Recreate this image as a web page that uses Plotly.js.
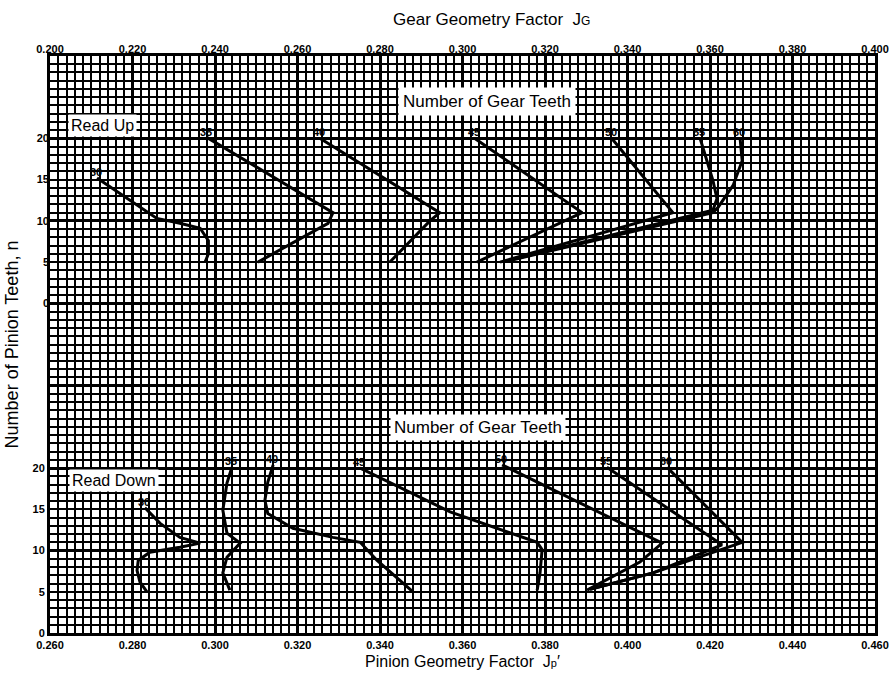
<!DOCTYPE html>
<html>
<head>
<meta charset="utf-8">
<script src="https://cdn.plot.ly/plotly-3.0.1.min.js"></script>
<style>html,body{margin:0;padding:0;background:#fff;}#chart{width:889px;height:675px;}</style>
</head>
<body>
<div id="chart"></div>
<script>
// Curve labels = number of gear teeth
const gearTeeth = ['30', '35', '40', '45', '50', '55', '60'];

// "Read Up" curves: gear geometry factor JG (top axis) vs number of pinion teeth n
const up30JG = [0.2114, 0.2259, 0.2315, 0.2364, 0.2384, 0.2384, 0.2376];
const up30N  = [15.2, 10.3, 9.7, 9.1, 7.6, 6.0, 5.0];
const up35JG = [0.2381, 0.2686, 0.2674, 0.2504];
const up35N  = [20.1, 11.0, 9.7, 5.0];
const up40JG = [0.2655, 0.2945, 0.2921, 0.2824];
const up40N  = [20.0, 11.0, 10.0, 5.0];
const up45JG = [0.3030, 0.3290, 0.3035];
const up45N  = [20.0, 11.0, 5.0];
const up50JG = [0.3362, 0.3510, 0.3091];
const up50N  = [20.0, 11.0, 5.0];
const up55JG = [0.3576, 0.3607, 0.3617, 0.3607, 0.3103];
const up55N  = [20.0, 14.9, 12.7, 11.3, 5.1];
const up60JG = [0.3673, 0.3678, 0.3656, 0.3619, 0.3607, 0.3115];
const up60N  = [20.0, 17.3, 14.3, 11.6, 11.0, 5.2];

// "Read Down" curves: pinion geometry factor JP' (bottom axis) vs n
const dn30JP = [0.2830, 0.2867, 0.2915, 0.2964, 0.2915, 0.2842, 0.2814, 0.2811, 0.2818, 0.2835];
const dn30N  = [15.2, 13.3, 11.6, 10.9, 10.4, 9.8, 8.8, 7.6, 6.2, 5.0];
const dn35JP = [0.3041, 0.3029, 0.3019, 0.3029, 0.3061, 0.3029, 0.3019, 0.3036];
const dn35N  = [20.1, 18.2, 14.9, 12.1, 10.9, 9.2, 7.3, 5.2];
const dn40JP = [0.3141, 0.3128, 0.3121, 0.3128, 0.3189, 0.3286, 0.3352, 0.3393, 0.3480];
const dn40N  = [20.4, 18.3, 16.1, 14.5, 12.7, 11.6, 11.0, 8.8, 5.0];
const dn45JP = [0.3352, 0.3570, 0.3781, 0.3793, 0.3788, 0.3781];
const dn45N  = [20.0, 14.7, 11.0, 10.1, 7.3, 5.2];
const dn50JP = [0.3696, 0.4084, 0.4030, 0.3902];
const dn50N  = [20.4, 10.9, 8.6, 5.2];
const dn55JP = [0.3950, 0.4229, 0.4062, 0.3909];
const dn55N  = [20.1, 10.7, 7.3, 5.3];
const dn60JP = [0.4096, 0.4278, 0.4062, 0.3909];
const dn60N  = [20.1, 11.0, 7.3, 5.3];

// Tick values
const nTicks = [0, 5, 10, 15, 20];

const upCurves = [[up30JG, up30N], [up35JG, up35N], [up40JG, up40N], [up45JG, up45N],
                  [up50JG, up50N], [up55JG, up55N], [up60JG, up60N]];
const dnCurves = [[dn30JP, dn30N], [dn35JP, dn35N], [dn40JP, dn40N], [dn45JP, dn45N],
                  [dn50JP, dn50N], [dn55JP, dn55N], [dn60JP, dn60N]];

const FONT = 'Liberation Sans, Arial, Helvetica, sans-serif';
const lineStyle = {color: '#000', width: 3};
const labelFont = {family: FONT, size: 11, weight: 'bold', color: '#000'};

const traces = [];
const annotations = [];
upCurves.forEach(function (c, i) {
  traces.push({x: c[0], y: c[1], xaxis: 'x2', yaxis: 'y2', type: 'scatter', mode: 'lines',
               line: lineStyle, name: 'Up ' + gearTeeth[i], showlegend: false, hoverinfo: 'x+y'});
  annotations.push({x: c[0][0], y: c[1][0], xref: 'x2', yref: 'y2', text: gearTeeth[i],
                    showarrow: false, xanchor: 'center', yanchor: 'bottom', yshift: -2, xshift: -1,
                    font: labelFont});
});
dnCurves.forEach(function (c, i) {
  traces.push({x: c[0], y: c[1], xaxis: 'x', yaxis: 'y', type: 'scatter', mode: 'lines',
               line: lineStyle, name: 'Down ' + gearTeeth[i], showlegend: false, hoverinfo: 'x+y'});
  annotations.push({x: c[0][0], y: c[1][0], xref: 'x', yref: 'y', text: gearTeeth[i],
                    showarrow: false, xanchor: 'center', yanchor: 'bottom', yshift: -2, xshift: -1,
                    font: labelFont});
});
// empty trace to carry the heavy horizontal grid axis
traces.push({x: [], y: [], xaxis: 'x', yaxis: 'y3', type: 'scatter', mode: 'lines', showlegend: false});

const boxFont = {family: FONT, size: 16, color: '#000'};
const boxBase = {xref: 'paper', yref: 'paper', showarrow: false, xanchor: 'center', yanchor: 'middle',
                 bgcolor: '#fff'};
annotations.push(
  Object.assign({}, boxBase, {x: 0.5297, y: 0.922, text: 'Number of Gear Teeth', borderpad: 4,
                              font: {family: FONT, size: 17, color: '#000'}}),
  Object.assign({}, boxBase, {x: 0.5188, y: 0.357, text: 'Number of Gear Teeth', borderpad: 3,
                              font: {family: FONT, size: 17, color: '#000'}}),
  Object.assign({}, boxBase, {x: 0.0642, y: 0.8787, text: 'Read Up', borderpad: 2, font: boxFont}),
  Object.assign({}, boxBase, {x: 0.0776, y: 0.265, text: 'Read Down', borderpad: 2, font: boxFont})
);

const tickFont = {family: FONT, size: 11, weight: 'bold', color: '#000'};

const layout = {
  width: 889, height: 675,
  margin: {l: 50, r: 14, t: 56, b: 42},
  paper_bgcolor: '#fff', plot_bgcolor: '#fff',
  showlegend: false,
  title: {text: 'Gear Geometry Factor&nbsp;&nbsp;J<span style="font-size:12px">G</span>',
          x: 476 / 889, xanchor: 'center', xref: 'paper', y: 1 - 19 / 675, yanchor: 'middle',
          font: {family: FONT, size: 17, color: '#000'}},
  xaxis: {
    range: [0.26, 0.46], tickmode: 'linear', tick0: 0.26, dtick: 0.02, tickformat: '.3f',
    ticks: '', tickfont: tickFont, showgrid: true, gridcolor: '#000', gridwidth: 3,
    zeroline: false, showline: true, linecolor: '#000', linewidth: 3, mirror: true,
    minor: {tickmode: 'linear', tick0: 0.26, dtick: 0.002, showgrid: true, gridcolor: '#000', gridwidth: 2, ticks: ''},
    title: {text: 'Pinion Geometry Factor&nbsp;&nbsp;J<span style="font-size:11px">p</span>\u2032',
            font: {family: FONT, size: 16, color: '#000'}, standoff: 6},
    automargin: false
  },
  xaxis2: {
    range: [0.2, 0.4], overlaying: 'x', side: 'top', anchor: 'y',
    tickmode: 'linear', tick0: 0.2, dtick: 0.02, tickformat: '.3f', ticks: '',
    tickfont: tickFont, showgrid: false, zeroline: false, showline: false, automargin: false
  },
  yaxis: {
    range: [0, 70], tickmode: 'array', tickvals: nTicks, ticks: '', tickfont: tickFont,
    showgrid: false, zeroline: false, showline: true, linecolor: '#000', linewidth: 3, mirror: true,
    minor: {tickmode: 'linear', tick0: 0, dtick: 1, showgrid: true, gridcolor: '#000', gridwidth: 2, ticks: ''},
    title: {text: 'Number of Pinion Teeth, n', font: {family: FONT, size: 18, color: '#000'}, standoff: 10},
    automargin: false
  },
  yaxis2: {
    range: [-40, 30], overlaying: 'y', side: 'left', anchor: 'x',
    tickmode: 'array', tickvals: nTicks, ticks: '', tickfont: tickFont,
    showgrid: false, zeroline: false, showline: false, automargin: false
  },
  yaxis3: {
    range: [0, 70], overlaying: 'y', side: 'left', anchor: 'x',
    tickmode: 'linear', tick0: 0, dtick: 10, showticklabels: false, ticks: '',
    showgrid: true, gridcolor: '#000', gridwidth: 3, zeroline: false, showline: false, automargin: false
  },
  annotations: annotations
};

Plotly.newPlot('chart', traces, layout, {displayModeBar: false, staticPlot: true});
</script>
</body>
</html>
